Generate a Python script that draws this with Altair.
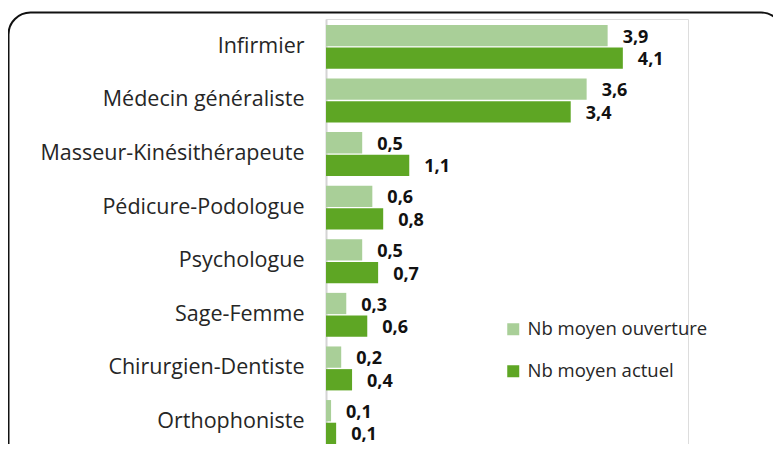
import altair as alt
import pandas as pd

categories = ["Infirmier", "Médecin généraliste", "Masseur-Kinésithérapeute",
              "Pédicure-Podologue", "Psychologue", "Sage-Femme",
              "Chirurgien-Dentiste", "Orthophoniste"]
series = ["Nb moyen ouverture", "Nb moyen actuel"]
ouverture = [3.89, 3.60, 0.50, 0.64, 0.50, 0.28, 0.21, 0.07]
actuel = [4.10, 3.38, 1.15, 0.79, 0.72, 0.57, 0.36, 0.14]
labels_ouverture = ["3,9", "3,6", "0,5", "0,6", "0,5", "0,3", "0,2", "0,1"]
labels_actuel = ["4,1", "3,4", "1,1", "0,8", "0,7", "0,6", "0,4", "0,1"]
colors = ["#a9cf98", "#5ea624"]

rows = []
for c, v, l in zip(categories, ouverture, labels_ouverture):
    rows.append({"cat": c, "serie": series[0], "val": v, "lab": l})
for c, v, l in zip(categories, actuel, labels_actuel):
    rows.append({"cat": c, "serie": series[1], "val": v, "lab": l})
df = pd.DataFrame(rows)

FONT = "Open Sans"

y_enc = alt.Y("cat:N", sort=categories, title=None,
              scale=alt.Scale(paddingInner=0.18, paddingOuter=0.055, align=1),
              axis=alt.Axis(ticks=False, labelPadding=22, labelFontSize=21.5,
                            labelFont=FONT, labelColor="#262626", labelLimit=0,
                            domainColor="#d4d4d4", domainWidth=2, grid=False))
yoff = alt.YOffset("serie:N", sort=series, scale=alt.Scale(paddingInner=0.06))
x_enc = alt.X("val:Q", scale=alt.Scale(domain=[0, 5]), axis=None)

bars = alt.Chart(df).mark_bar().encode(
    y=y_enc, yOffset=yoff, x=x_enc,
    color=alt.Color("serie:N", sort=series,
                    scale=alt.Scale(domain=series, range=colors),
                    legend=alt.Legend(title=None, orient="none", legendX=178, legendY=301,
                                      symbolType="square", symbolSize=144,
                                      symbolStrokeWidth=0, labelFont=FONT,
                                      labelFontSize=18.5, labelColor="#262626",
                                      labelLimit=0, labelOffset=5, rowPadding=23)),
)

texts = alt.Chart(df).mark_text(align="left", baseline="middle", dx=15, dy=2,
                                font=FONT, fontSize=18, fontWeight="bold",
                                color="#111111").encode(
    y=alt.Y("cat:N", sort=categories), yOffset=yoff, x="val:Q", text="lab:N")

frame_df = pd.DataFrame({"k": [0]})
frame = alt.Chart(frame_df).mark_rect(fill=None, stroke="#111111", strokeWidth=2,
                                      cornerRadius=22, clip=False).encode(
    x=alt.value(-317.5), x2=alt.value(457), y=alt.value(-6.5), y2=alt.value(460))

chart = alt.layer(frame, bars, texts).properties(
    width=362, height=425,
    autosize=alt.AutoSizeParams(type="none"),
    padding={"left": 318, "top": 11, "right": 85, "bottom": 0},
).configure_view(stroke=None).configure(background="white")

chart.save("out.html", embed_options={"renderer": "svg", "actions": False})
